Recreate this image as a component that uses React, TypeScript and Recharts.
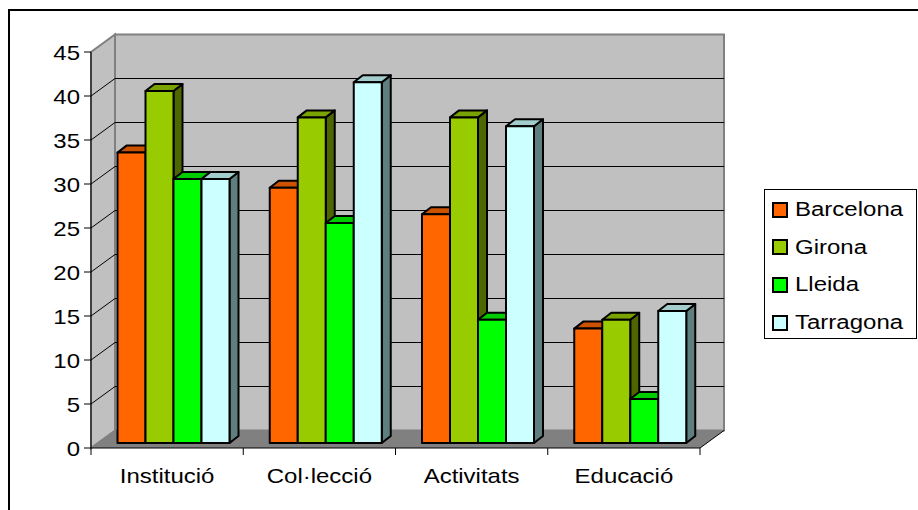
import { BarChart, Bar, XAxis, YAxis, ReferenceArea } from "recharts"

const categories = ["Institució", "Col·lecció", "Activitats", "Educació"]
const barcelona = [33, 29, 26, 13]
const girona = [40, 37, 37, 14]
const lleida = [30, 25, 14, 5]
const tarragona = [30, 41, 36, 15]
const yTicks = [0, 5, 10, 15, 20, 25, 30, 35, 40, 45]

const seriesNames = ["Barcelona", "Girona", "Lleida", "Tarragona"]
const seriesValues = [barcelona, girona, lleida, tarragona]

// front / top / side shades for each series
const palette = [
  { front: "#FF6600", top: "#CC5200", side: "#803300" },
  { front: "#99CC00", top: "#7AA300", side: "#4D6600" },
  { front: "#00FF00", top: "#00CC00", side: "#008000" },
  { front: "#CCFFFF", top: "#A3CCCC", side: "#5F7F7F" },
]

const data = categories.map((name, i) => {
  const row: Record<string, string | number> = { name }
  seriesNames.forEach((s, k) => {
    row[s] = seriesValues[k][i]
  })
  return row
})

// depth of the box (walls) and of each bar
const WALL_DX = 24
const WALL_DY = -17.5
const BAR_SHIFT_X = 6.5
const BAR_SHIFT_Y = -5
const BAR_DX = 9
const BAR_DY = -7

const FONT = '"Liberation Sans", Arial, sans-serif'
const STRETCH = 1.2

const Walls = (props: any) => {
  const { x, y, width, height } = props
  const l = x
  const r = x + width
  const t = y
  const b = y + height
  const yMax = yTicks[yTicks.length - 1]
  const yPx = (v: number) => b - (v / yMax) * height
  const inner = yTicks.slice(1, -1)
  return (
    <g>
      {/* back wall */}
      <rect
        x={l + WALL_DX}
        y={t + WALL_DY}
        width={width}
        height={height}
        fill="#C0C0C0"
        stroke="#808080"
        strokeWidth={2}
      />
      {/* left wall */}
      <polygon
        points={`${l},${b} ${l},${t} ${l + WALL_DX},${t + WALL_DY} ${l + WALL_DX},${b + WALL_DY}`}
        fill="#C0C0C0"
        stroke="#808080"
        strokeWidth={2}
      />
      {/* floor */}
      <polygon
        points={`${l},${b} ${r},${b} ${r + WALL_DX},${b + WALL_DY} ${l + WALL_DX},${b + WALL_DY}`}
        fill="#808080"
      />
      <line x1={r} y1={b} x2={r + WALL_DX} y2={b + WALL_DY} stroke="#000" strokeWidth={1} />
      {inner.map((v) => (
        <g key={v}>
          <line x1={l} y1={yPx(v)} x2={l + WALL_DX} y2={yPx(v) + WALL_DY} stroke="#000" strokeWidth={1} />
          <line
            x1={l + WALL_DX}
            y1={yPx(v) + WALL_DY}
            x2={r + WALL_DX}
            y2={yPx(v) + WALL_DY}
            stroke="#000"
            strokeWidth={1}
          />
        </g>
      ))}
    </g>
  )
}

const makeBarShape = (c: { front: string; top: string; side: string }) => (props: any) => {
  const { x, y, width, height } = props
  const fx = x + BAR_SHIFT_X
  const fy = y + BAR_SHIFT_Y
  const w = width
  const h = height
  return (
    <g stroke="#000" strokeWidth={2} strokeLinejoin="round">
      <polygon
        points={`${fx + w},${fy} ${fx + w + BAR_DX},${fy + BAR_DY} ${fx + w + BAR_DX},${fy + h + BAR_DY} ${fx + w},${fy + h}`}
        fill={c.side}
      />
      <polygon
        points={`${fx},${fy} ${fx + BAR_DX},${fy + BAR_DY} ${fx + w + BAR_DX},${fy + BAR_DY} ${fx + w},${fy}`}
        fill={c.top}
      />
      <rect x={fx} y={fy} width={w} height={h} fill={c.front} />
    </g>
  )
}

const CategoryTick = (props: any) => {
  const { x, y, payload, index } = props
  const half = payload?.offset ?? 76
  return (
    <g>
      <line x1={x - half} x2={x - half} y1={y} y2={y + 7} stroke="#000" />
      {index === categories.length - 1 && <line x1={x + half} x2={x + half} y1={y} y2={y + 7} stroke="#000" />}
      <text
        transform={`translate(${x},${y + 35}) scale(${STRETCH},1)`}
        textAnchor="middle"
        fontSize={20}
        fontFamily={FONT}
        fill="#000"
      >
        {payload.value}
      </text>
    </g>
  )
}

const ValueTick = (props: any) => {
  const { x, y, payload } = props
  return (
    <text
      transform={`translate(${x},${y + 8}) scale(${STRETCH},1)`}
      textAnchor="end"
      fontSize={20}
      fontFamily={FONT}
      fill="#000"
    >
      {payload.value}
    </text>
  )
}

const App = () => {
  return (
    <div
      style={{
        position: "fixed",
        left: 8,
        top: 9,
        width: 910,
        height: 501,
        boxSizing: "border-box",
        borderTop: "2px solid #000",
        borderLeft: "2px solid #000",
        background: "#fff",
        fontFamily: FONT,
      }}
    >
      <BarChart
        width={908}
        height={499}
        data={data}
        margin={{ top: 41, right: 218, bottom: 22, left: 21 }}
        barGap={0}
      >
        <XAxis
          dataKey="name"
          interval={0}
          tickLine={false}
          tickSize={0}
          tickMargin={0}
          height={40}
          stroke="#000"
          tick={<CategoryTick />}
        />
        <YAxis
          domain={[0, yTicks[yTicks.length - 1]]}
          ticks={yTicks}
          interval={0}
          tickSize={7}
          tickMargin={4}
          width={60}
          stroke="#000"
          tick={<ValueTick />}
        />
        <ReferenceArea y1={0} y2={yTicks[yTicks.length - 1]} shape={(p: any) => <Walls {...p} />} />
        {seriesNames.map((s, k) => (
          <Bar key={s} dataKey={s} barSize={28} isAnimationActive={false} shape={makeBarShape(palette[k])} />
        ))}
      </BarChart>
      <div
        style={{
          position: "absolute",
          left: 754,
          top: 178,
          width: 153,
          height: 150,
          boxSizing: "border-box",
          border: "1px solid #000",
          paddingTop: 1,
        }}
      >
        {seriesNames.map((s, k) => (
          <div key={s} style={{ height: 37.6, display: "flex", alignItems: "center" }}>
            <div
              style={{
                marginLeft: 7,
                width: 16,
                height: 16,
                boxSizing: "border-box",
                border: "2px solid #000",
                background: palette[k].front,
              }}
            />
            <span
              style={{
                marginLeft: 7,
                fontSize: 20,
                display: "inline-block",
                transform: `scaleX(${STRETCH})`,
                transformOrigin: "left center",
                color: "#000",
              }}
            >
              {s}
            </span>
          </div>
        ))}
      </div>
    </div>
  )
}

export default App
